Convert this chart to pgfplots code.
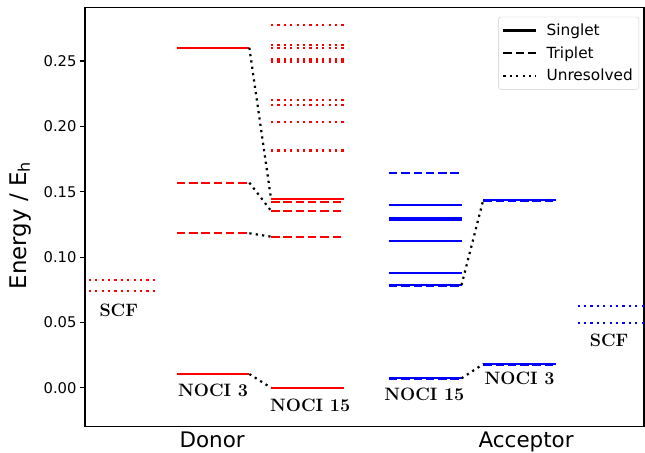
\documentclass[border=0pt]{standalone}
\usepackage{fontspec}
\usepackage{pgfplots}
\pgfplotsset{compat=1.18}
\newfontfamily\dejavu{DejaVu Sans}

% level half width 0.385, columns at 0,1,2 (donor) and 3.25,4.25,5.25 (acceptor)
\pgfplotsset{
  lvl/.style={line width=2.2bp, forget plot},
  sing/.style={lvl, solid},
  trip/.style={lvl, dash pattern=on 8.5bp off 3.8bp},
  unres/.style={lvl, dash pattern=on 2.2bp off 4.2bp},
  conn/.style={black, line width=2.2bp, dash pattern=on 2.2bp off 4.2bp, forget plot},
}

\begin{document}
\begin{tikzpicture}
\begin{axis}[
  name=ax,
  scale only axis,
  width=559bp, height=419.4bp,
  xmin=-0.358, xmax=5.57,
  ymin=-0.0298, ymax=0.2911,
  unbounded coords=jump,
  axis line style={line width=1.1bp},
  tick align=outside,
  major tick length=5bp,
  every tick/.style={black, line width=1.1bp},
  ytick pos=left,
  ytick={0,0.05,0.10,0.15,0.20,0.25},
  yticklabel style={/pgf/number format/.cd, fixed, fixed zerofill, precision=2, assume math mode=true},
  ticklabel style={font=\dejavu\fontsize{14.8}{17}\selectfont},
  xtick={0.99,4.32},
  xticklabels={Donor,Acceptor},
  xtick style={draw=none},
  xticklabel style={font=\dejavu\fontsize{21.5}{24}\selectfont, yshift=3bp},
  ylabel={Energy / E\textsubscript{h}},
  ylabel style={font=\dejavu\fontsize{23}{26}\selectfont, at={(axis description cs:-0.116,0.48)}, anchor=center},
  legend cell align=left,
  legend image code/.code={\draw[#1] (0bp,0bp) -- (33bp,0bp);},
  legend style={at={(1,1)}, anchor=north east, xshift=-5bp, yshift=-9.5bp,
    draw=black!20, rounded corners=2.5bp, fill=white,
    font=\dejavu\fontsize{15.4}{18}\selectfont,
    row sep=5.5bp, column sep=7bp, inner xsep=4bp, inner ysep=5bp},
]
% legend entries
\addlegendimage{black, line width=2.2bp, solid}
\addlegendentry{Singlet}
\addlegendimage{black, line width=2.2bp, dash pattern=on 8.5bp off 3.8bp}
\addlegendentry{Triplet}
\addlegendimage{black, line width=2.2bp, dash pattern=on 2.2bp off 4.2bp}
\addlegendentry{Unresolved}

% ---- Donor (red) ----
% SCF
\addplot[unres, red] coordinates {
  (-0.385,0.0824) (0.385,0.0824) (nan,nan)
  (-0.385,0.0742) (0.385,0.0742)
};
% NOCI 3
\addplot[sing, red] coordinates {
  (0.615,0.2602) (1.385,0.2602) (nan,nan)
  (0.615,0.0105) (1.385,0.0105)
};
\addplot[trip, red] coordinates {
  (0.615,0.1569) (1.385,0.1569) (nan,nan)
  (0.615,0.1182) (1.385,0.1182)
};
% NOCI 15
\addplot[unres, red] coordinates {
  (1.615,0.2776) (2.385,0.2776) (nan,nan)
  (1.615,0.2620) (2.385,0.2620) (nan,nan)
  (1.615,0.2602) (2.385,0.2602) (nan,nan)
  (1.615,0.2515) (2.385,0.2515) (nan,nan)
  (1.615,0.2497) (2.385,0.2497) (nan,nan)
  (1.615,0.2199) (2.385,0.2199) (nan,nan)
  (1.615,0.2163) (2.385,0.2163) (nan,nan)
  (1.615,0.2036) (2.385,0.2036) (nan,nan)
  (1.615,0.1819) (2.385,0.1819) (nan,nan)
  (1.615,0.1813) (2.385,0.1813)
};
\addplot[sing, red] coordinates {
  (1.615,0.1444) (2.385,0.1444) (nan,nan)
  (1.615,0.0000) (2.385,0.0000)
};
\addplot[trip, red] coordinates {
  (1.615,0.1421) (2.385,0.1421) (nan,nan)
  (1.615,0.1354) (2.385,0.1354) (nan,nan)
  (1.615,0.1156) (2.385,0.1156)
};
% connectors
\addplot[conn] coordinates {
  (1.385,0.2602) (1.615,0.1444) (nan,nan)
  (1.385,0.1569) (1.615,0.1354) (nan,nan)
  (1.385,0.1182) (1.615,0.1156) (nan,nan)
  (1.385,0.0105) (1.615,0.0000)
};

% ---- Acceptor (blue) ----
% NOCI 15
\addplot[sing, blue] coordinates {
  (2.865,0.1396) (3.635,0.1396) (nan,nan)
  (2.865,0.1301) (3.635,0.1301) (nan,nan)
  (2.865,0.1283) (3.635,0.1283) (nan,nan)
  (2.865,0.1125) (3.635,0.1125) (nan,nan)
  (2.865,0.0880) (3.635,0.0880) (nan,nan)
  (2.865,0.0786) (3.635,0.0786) (nan,nan)
  (2.865,0.0072) (3.635,0.0072)
};
\addplot[trip, blue] coordinates {
  (2.865,0.1641) (3.635,0.1641) (nan,nan)
  (2.865,0.1292) (3.635,0.1292) (nan,nan)
  (2.865,0.1121) (3.635,0.1121) (nan,nan)
  (2.865,0.0783) (3.635,0.0783) (nan,nan)
  (2.865,0.0069) (3.635,0.0069)
};
% NOCI 3
\addplot[sing, blue] coordinates {
  (3.865,0.1436) (4.635,0.1436) (nan,nan)
  (3.865,0.0181) (4.635,0.0181)
};
\addplot[trip, blue] coordinates {
  (3.865,0.1433) (4.635,0.1433) (nan,nan)
  (3.865,0.0178) (4.635,0.0178)
};
% SCF
\addplot[unres, blue] coordinates {
  (4.865,0.0625) (5.635,0.0625) (nan,nan)
  (4.865,0.0493) (5.635,0.0493)
};
% connectors
\addplot[conn] coordinates {
  (3.635,0.0786) (3.865,0.1436) (nan,nan)
  (3.635,0.0072) (3.865,0.0181)
};

% labels
\begin{scope}[every node/.style={font=\bfseries\fontsize{18}{20}\selectfont, inner sep=0pt}]
\node at (axis cs:0,0.0595) {SCF};
\node at (axis cs:1,-0.0018) {NOCI 3};
\node at (axis cs:2.03,-0.0138) {NOCI 15};
\node at (axis cs:3.24,-0.0048) {NOCI 15};
\node at (axis cs:4.25,0.0074) {NOCI 3};
\node at (axis cs:5.2,0.036) {SCF};
\end{scope}
\end{axis}
\pgfresetboundingbox
\path[use as bounding box] ([shift={(-85bp,-26.3bp)}]ax.south west) rectangle ([shift={(1bp,7.3bp)}]ax.north east);
\end{tikzpicture}
\end{document}
